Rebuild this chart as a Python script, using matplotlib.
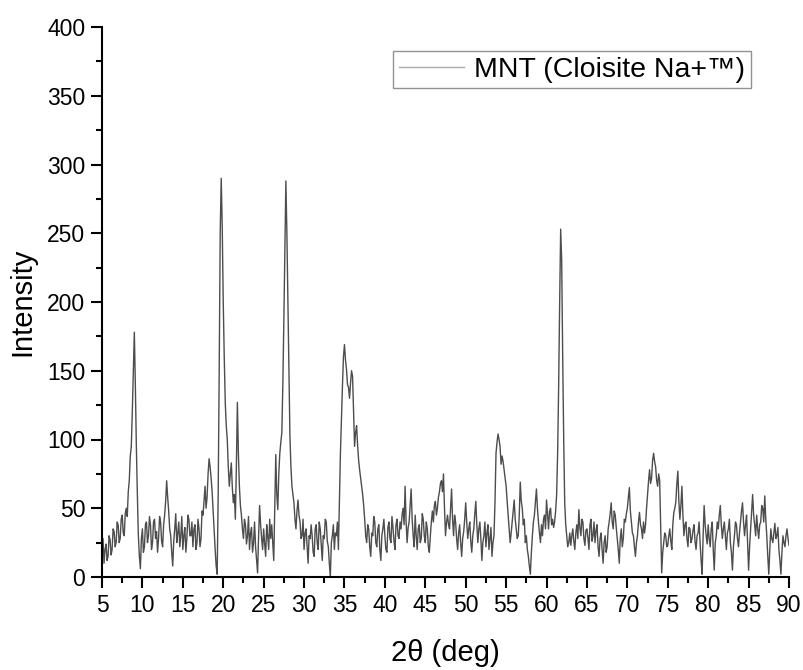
import numpy as np
import matplotlib
matplotlib.use("Agg")
import matplotlib.pyplot as plt
from matplotlib.lines import Line2D

# 2theta grid: 5 .. 90 deg in 0.125 deg steps
two_theta = np.arange(5.0, 90.001, 0.125)

# Intensity (8 values per degree)
intensity = [
    18, 28, 10, 20, 24, 12, 15, 30,          # 5
    27, 16, 20, 35, 33, 22, 25, 40,          # 6
    38, 25, 28, 42, 45, 32, 30, 46,          # 7
    50, 44, 62, 70, 88, 95, 120, 150,        # 8
    178, 140, 95, 60, 30, 15, 6, 28,         # 9
    35, 18, 22, 38, 40, 25, 30, 44,          # 10
    38, 20, 25, 40, 42, 28, 33, 18,          # 11
    28, 44, 40, 26, 22, 38, 45, 55,          # 12
    70, 58, 48, 35, 30, 18, 8, 26,           # 13
    35, 46, 25, 32, 40, 22, 30, 44,          # 14
    20, 30, 36, 18, 28, 45, 42, 30,          # 15
    30, 40, 22, 35, 38, 20, 25, 42,          # 16
    35, 22, 28, 48, 45, 55, 66, 50,          # 17
    58, 75, 86, 80, 72, 62, 48, 35,          # 18
    20, 8, 2, 60, 150, 250, 290, 255,        # 19
    200, 160, 127, 110, 100, 80, 66, 75,     # 20
    83, 65, 54, 60, 42, 80, 127, 90,         # 21
    66, 52, 45, 35, 28, 42, 38, 24,          # 22
    30, 44, 20, 32, 36, 18, 25, 40,          # 23
    22, 12, 3, 30, 52, 38, 28, 20,           # 24
    35, 24, 15, 38, 30, 20, 42, 28,          # 25
    38, 25, 12, 50, 89, 60, 49, 75,          # 26
    90, 98, 105, 140, 187, 240, 288, 250,    # 27
    200, 150, 103, 80, 66, 60, 54, 42,       # 28
    35, 48, 56, 45, 40, 28, 30, 42,          # 29
    20, 32, 35, 22, 10, 30, 28, 38,          # 30
    30, 18, 15, 35, 38, 25, 20, 40,          # 31
    35, 24, 12, 30, 28, 42, 40, 26,          # 32
    22, 10, 0, 25, 30, 38, 20, 32,           # 33
    30, 40, 20, 55, 90, 115, 139, 160,       # 34
    169, 158, 151, 140, 138, 130, 141, 150,  # 35
    146, 120, 95, 105, 110, 96, 85, 78,      # 36
    72, 66, 60, 52, 42, 30, 25, 38,          # 37
    35, 22, 15, 32, 30, 44, 40, 25,          # 38
    22, 35, 38, 20, 12, 30, 35, 42,          # 39
    30, 20, 18, 36, 40, 28, 25, 44,          # 40
    36, 26, 20, 38, 42, 30, 28, 40,          # 41
    35, 45, 50, 38, 66, 40, 25, 36,          # 42
    40, 52, 64, 42, 30, 22, 45, 30,          # 43
    20, 35, 38, 25, 28, 46, 42, 30,          # 44
    25, 40, 35, 22, 18, 30, 40, 48,          # 45
    40, 52, 55, 45, 50, 58, 62, 68,          # 46
    70, 62, 75, 50, 30, 40, 45, 38,          # 47
    35, 50, 64, 42, 30, 45, 40, 28,          # 48
    20, 32, 38, 25, 15, 28, 33, 42,          # 49
    54, 40, 28, 35, 40, 26, 18, 30,          # 50
    35, 46, 55, 38, 25, 35, 40, 28,          # 51
    12, 25, 30, 40, 22, 32, 38, 20,          # 52
    28, 36, 15, 25, 30, 55, 90, 98,          # 53
    104, 100, 95, 82, 88, 84, 78, 72,        # 54
    66, 55, 45, 35, 25, 32, 40, 48,          # 55
    56, 42, 35, 28, 30, 45, 69, 55,          # 56
    50, 38, 42, 25, 30, 20, 15, 8,           # 57
    2, 18, 30, 40, 45, 55, 64, 50,           # 58
    40, 32, 25, 38, 30, 42, 45, 35,          # 59
    56, 45, 35, 48, 50, 38, 42, 36,          # 60
    40, 48, 60, 90, 139, 200, 253, 230,      # 61
    160, 100, 54, 38, 30, 22, 25, 32,        # 62
    23, 30, 35, 26, 20, 32, 38, 28,          # 63
    49, 36, 30, 42, 40, 28, 23, 34,          # 64
    35, 28, 20, 38, 42, 26, 30, 40,          # 65
    25, 34, 38, 22, 15, 28, 32, 20,          # 66
    10, 25, 30, 18, 22, 35, 40, 46,          # 67
    54, 40, 35, 48, 45, 36, 28, 20,          # 68
    10, 28, 35, 22, 28, 42, 40, 46,          # 69
    50, 58, 65, 48, 40, 32, 30, 22,          # 70
    15, 25, 30, 40, 47, 38, 35, 28,          # 71
    40, 32, 38, 50, 60, 70, 78, 68,          # 72
    72, 85, 90, 84, 80, 70, 66, 75,          # 73
    70, 35, 3, 18, 25, 32, 30, 22,           # 74
    23, 30, 35, 26, 20, 38, 47, 50,          # 75
    55, 68, 77, 55, 42, 52, 66, 45,          # 76
    30, 38, 40, 28, 22, 36, 35, 25,          # 77
    28, 34, 38, 26, 20, 30, 32, 40,          # 78
    25, 12, 2, 30, 52, 38, 30, 24,           # 79
    38, 28, 22, 35, 40, 20, 5, 25,           # 80
    30, 40, 35, 45, 52, 38, 28, 35,          # 81
    40, 30, 20, 32, 35, 42, 25, 18,          # 82
    5, 22, 30, 40, 38, 28, 22, 32,           # 83
    40, 48, 54, 40, 30, 38, 45, 25,          # 84
    5, 22, 35, 48, 60, 45, 38, 30,           # 85
    45, 35, 28, 38, 40, 52, 50, 40,          # 86
    59, 42, 30, 15, 2, 20, 35, 28,           # 87
    25, 32, 39, 28, 30, 36, 20, 12,          # 88
    2, 18, 30, 25, 22, 30, 35, 28,           # 89
    23,                                      # 90
]

series_label = "MNT (Cloisite Na+\u2122)"
x_ticks = list(range(5, 91, 5))
y_ticks = list(range(0, 401, 50))

plt.rcParams['font.family'] = ['Liberation Sans', 'DejaVu Sans']

fig = plt.figure(figsize=(8.04, 6.70), dpi=100)
ax = fig.add_axes([102 / 804, 1 - 577 / 670, (789 - 102) / 804, (577 - 27) / 670])

ax.plot(two_theta, intensity, color='#4d4d4d', linewidth=1.0)

ax.set_xlim(5, 90)
ax.set_ylim(0, 400)
ax.set_xticks(x_ticks)
ax.set_yticks(y_ticks)
ax.set_xticks(np.arange(7.5, 90, 5), minor=True)
ax.set_yticks(np.arange(25, 400, 50), minor=True)

for s in ['top', 'right']:
    ax.spines[s].set_visible(False)
for s in ['left', 'bottom']:
    ax.spines[s].set_linewidth(1.5)

ax.tick_params(which='major', direction='out', length=8, width=1.5, labelsize=16.5,
               colors='black', pad=4)
ax.tick_params(which='minor', direction='out', length=4.5, width=1.5)

ax.set_xlabel("2\u03b8 (deg)", fontsize=21, labelpad=16)
ax.set_ylabel("Intensity", fontsize=21, labelpad=8)

handle = Line2D([], [], color='#aaaaaa', linewidth=1.0)
leg = ax.legend([handle], [series_label], loc='upper right',
                bbox_to_anchor=(751 / 804, 1 - 51 / 670), bbox_transform=fig.transFigure,
                fontsize=20.5, frameon=True, fancybox=False, handlelength=2.3,
                borderpad=0.2, handletextpad=0.35, borderaxespad=0)
leg.get_frame().set_edgecolor('#777777')
leg.get_frame().set_linewidth(1.0)

fig.savefig("out.png", dpi=100)
